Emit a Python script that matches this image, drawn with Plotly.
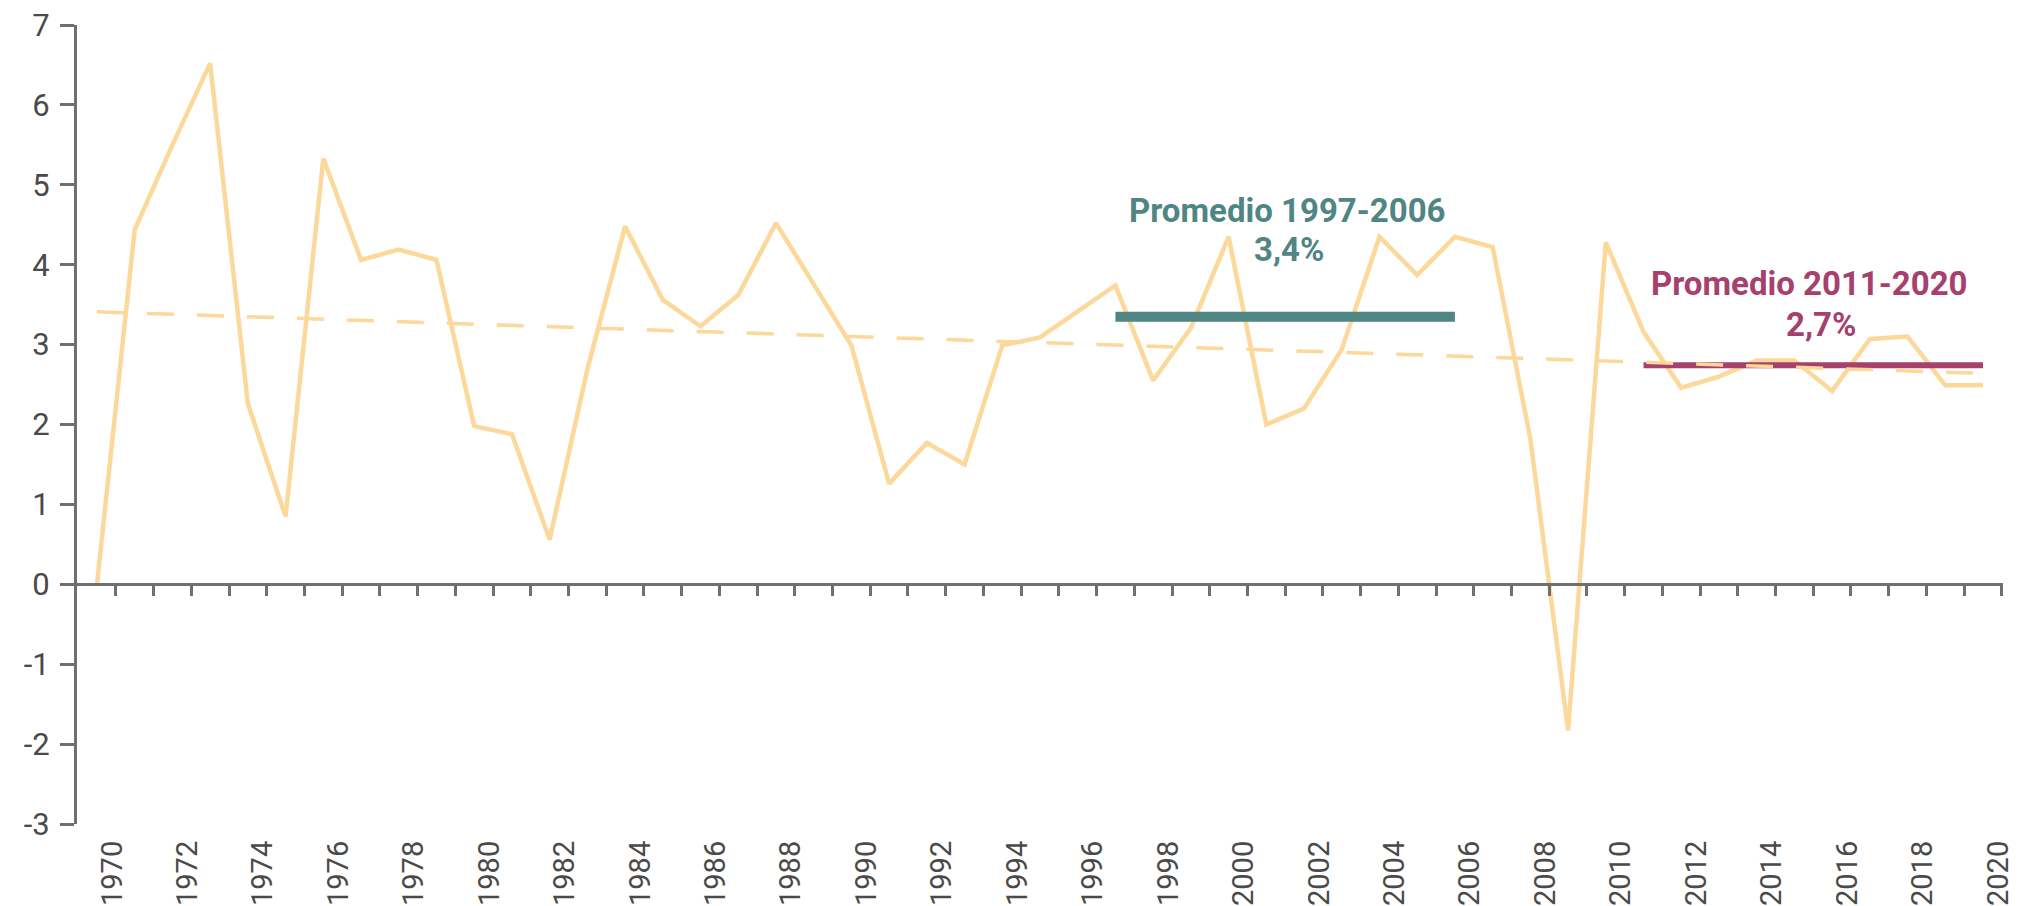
import plotly.graph_objects as go

years = list(range(1970, 2021))
growth = [0.0, 4.44, 5.5, 6.52, 2.26, 0.85, 5.33, 4.06, 4.19, 4.06,
          1.98, 1.88, 0.56, 2.69, 4.48, 3.56, 3.23, 3.62, 4.52, 3.76,
          2.99, 1.26, 1.77, 1.50, 2.99, 3.09, 3.41, 3.74, 2.55, 3.21,
          4.35, 2.00, 2.20, 2.94, 4.35, 3.87, 4.35, 4.22, 1.82, -1.83,
          4.28, 3.16, 2.46, 2.60, 2.80, 2.80, 2.42, 3.07, 3.10, 2.49, 2.49]

trend_years = [1970, 2020]
trend_values = [3.41, 2.64]

avg1_years = [1997, 2006]
avg1_value = 3.35
avg1_title = "Promedio 1997-2006"
avg1_label = "3,4%"

avg2_years = [2011, 2020]
avg2_value = 2.74
avg2_title = "Promedio 2011-2020"
avg2_label = "2,7%"

label_years = list(range(1970, 2021, 2))
y_ticks = list(range(-3, 8))
y_tick_text = ["-3", "-2", "-1", "0", "1", "2", "3", "4", "5", "6", "7"]

LINE = "#FCD89B"
TEAL = "#4F8582"
MAG = "#A6406C"
AX = "#6f6f6f"
TXT = "#4a4a4a"
FONT = "Roboto, DejaVu Sans Condensed, sans-serif"

xr = [1969.47, 2020.53]

fig = go.Figure()
fig.add_trace(go.Scatter(x=trend_years, y=trend_values, mode="lines",
                         line=dict(color=LINE, width=3.5, dash="27px,23px"),
                         xaxis="x2", hoverinfo="skip", showlegend=False))
fig.add_trace(go.Scatter(x=years, y=growth, mode="lines",
                         line=dict(color=LINE, width=4.5), showlegend=False))
fig.add_trace(go.Scatter(x=avg1_years, y=[avg1_value] * 2, mode="lines",
                         line=dict(color=TEAL, width=10), showlegend=False))
fig.add_trace(go.Scatter(x=avg2_years, y=[avg2_value] * 2, mode="lines",
                         line=dict(color=MAG, width=6), showlegend=False))

ann_font = dict(family=FONT, size=33, weight="bold")
fig.add_annotation(x=2001.55, y=4.68, xref="x", yref="y", text=avg1_title,
                   showarrow=False, font=dict(**ann_font, color=TEAL),
                   xanchor="center", yanchor="middle")
fig.add_annotation(x=2001.6, y=4.19, xref="x", yref="y", text=avg1_label,
                   showarrow=False, font=dict(**ann_font, color=TEAL),
                   xanchor="center", yanchor="middle")
fig.add_annotation(x=2015.4, y=3.76, xref="x", yref="y", text=avg2_title,
                   showarrow=False, font=dict(**ann_font, color=MAG),
                   xanchor="center", yanchor="middle")
fig.add_annotation(x=2015.7, y=3.25, xref="x", yref="y", text=avg2_label,
                   showarrow=False, font=dict(**ann_font, color=MAG),
                   xanchor="center", yanchor="middle")

fig.update_layout(
    width=2029, height=906,
    margin=dict(l=77, r=26, t=25, b=82),
    paper_bgcolor="white", plot_bgcolor="white",
    showlegend=False,
    xaxis=dict(range=xr, showgrid=False, zeroline=False, showline=False,
               automargin=False,
               tickmode="array", tickvals=[y + 0.4 for y in label_years],
               ticktext=[str(y) for y in label_years], ticks="",
               tickangle=-90, ticklabelstandoff=10,
               tickfont=dict(family=FONT, size=29, color=TXT)),
    xaxis2=dict(range=xr, overlaying="x", anchor="free", position=0.3,
                side="bottom", showgrid=False, zeroline=False,
                automargin=False,
                showline=True, linecolor=AX, linewidth=3,
                tickmode="array", tickvals=[y + 0.5 for y in years],
                ticks="outside", ticklen=10, tickwidth=3, tickcolor=AX,
                showticklabels=False),
    yaxis=dict(range=[-3, 7], tickmode="array", tickvals=y_ticks,
               ticktext=y_tick_text, automargin=False,
               showgrid=False, zeroline=False, showline=True,
               linecolor=AX, linewidth=3, ticks="outside", ticklen=14,
               tickwidth=3, tickcolor=AX, ticklabelstandoff=4,
               tickfont=dict(family=FONT, size=31, color=TXT)),
)

fig.write_html("out.html",
               config={"displayModeBar": False},
               post_script="document.body.style.margin='0px';"
                           "document.body.style.overflow='hidden';")
